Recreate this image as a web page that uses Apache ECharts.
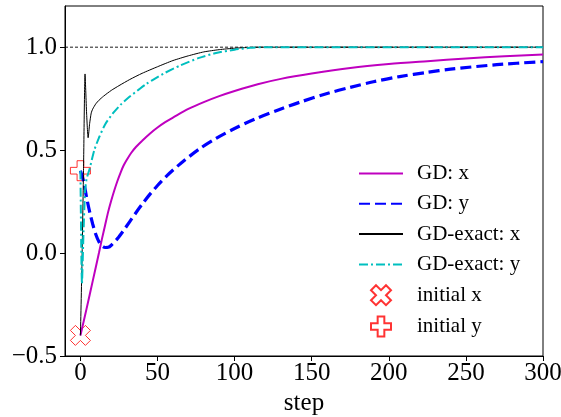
<!DOCTYPE html>
<html>
<head>
<meta charset="utf-8">
<script src="https://cdn.jsdelivr.net/npm/echarts@6/dist/echarts.min.js"></script>
<style>
  html, body { margin: 0; padding: 0; background: #fff; }
  #chart { width: 561px; height: 417px; }
</style>
</head>
<body>
<div id="chart"></div>
<script>
// Gradient descent trajectories of the two coordinates, plain step vs exact line search.
const gdXSteps = [0, 4, 8, 12, 14, 16, 18, 20, 22, 24, 26, 28, 30, 33, 36, 40, 45, 50, 55, 60, 70, 80, 90, 100, 115, 130, 150, 175, 200, 225, 250, 275, 300];
const gdXVals  = [-0.40, -0.27, -0.135, 0.0, 0.07, 0.135, 0.20, 0.255, 0.305, 0.35, 0.39, 0.425, 0.452, 0.487, 0.515, 0.545, 0.58, 0.61, 0.636, 0.658, 0.70, 0.733, 0.762, 0.787, 0.82, 0.846, 0.872, 0.899, 0.918, 0.932, 0.945, 0.956, 0.965];

const gdYSteps = [0, 2, 4, 6, 8, 10, 12, 14, 16, 18, 20, 24, 28, 32, 36, 40, 45, 50, 56, 65, 77, 88, 100, 113, 130, 142, 160, 175, 190, 207, 225, 240, 270, 300];
const gdYVals  = [0.40, 0.35, 0.27, 0.20, 0.14, 0.09, 0.055, 0.035, 0.027, 0.028, 0.038, 0.07, 0.11, 0.153, 0.196, 0.237, 0.285, 0.328, 0.375, 0.435, 0.505, 0.557, 0.605, 0.65, 0.70, 0.732, 0.775, 0.805, 0.832, 0.857, 0.878, 0.893, 0.915, 0.93];

const exactXSteps = [0, 1, 2, 3, 4, 5, 6, 7, 8, 10, 12, 15, 20, 25, 32, 40, 50, 60, 70, 80, 90, 100, 110, 120, 300];
const exactXVals  = [-0.40, -0.05, 0.40, 0.87, 0.68, 0.56, 0.63, 0.68, 0.70, 0.725, 0.742, 0.762, 0.79, 0.813, 0.843, 0.873, 0.905, 0.935, 0.958, 0.977, 0.988, 0.995, 0.999, 1.0, 1.0];

const exactYSteps = [0, 1, 2, 3, 4, 6, 9, 12, 16, 21, 26, 32, 38, 43, 50, 55, 65, 77, 88, 100, 110, 120, 300];
const exactYVals  = [0.40, -0.15, 0.10, 0.30, 0.36, 0.41, 0.50, 0.56, 0.625, 0.678, 0.72, 0.76, 0.795, 0.823, 0.855, 0.876, 0.912, 0.948, 0.972, 0.988, 0.997, 1.0, 1.0];

const initialX = [[0, -0.40]];
const initialY = [[0, 0.40]];

const targetLevel = 1.0;
const xRange = [-10, 300];
const yRange = [-0.5, 1.2];
const xTicks = [0, 50, 100, 150, 200, 250, 300];
const yTicks = [-0.5, 0.0, 0.5, 1.0];

const lineNames = ['GD: x', 'GD: y', 'GD-exact: x', 'GD-exact: y'];
const markerNames = ['initial x', 'initial y'];

function pairs(xs, ys) { return xs.map((x, i) => [x, ys[i]]); }

// filled "X" and "P" marker outlines
const xMarker = 'path://M1 0 L2 1 L3 0 L4 1 L3 2 L4 3 L3 4 L2 3 L1 4 L0 3 L1 2 L0 1 Z';
const plusMarker = 'path://M1 0 L2 0 L2 1 L3 1 L3 2 L2 2 L2 3 L1 3 L1 2 L0 2 L0 1 L1 1 Z';

const FONT = '"Liberation Serif", "DejaVu Serif", serif';

const chart = echarts.init(document.getElementById('chart'), null, { renderer: 'canvas' });

// line entries show only the line sample in the legend
const legendData = lineNames.map(n => ({ name: n, itemStyle: { opacity: 0 } }))
  .concat(markerNames.map(n => ({ name: n })));

chart.setOption({
  animation: false,
  backgroundColor: '#ffffff',
  grid: {
    left: 65, right: 18, top: 6, bottom: 61,
    outerBoundsMode: 'none', containLabel: false,
    show: true, borderColor: '#000', borderWidth: 1, backgroundColor: 'transparent'
  },
  xAxis: {
    type: 'value', min: xRange[0], max: xRange[1],
    name: 'step', nameLocation: 'middle', nameGap: 35,
    nameTextStyle: { fontFamily: FONT, fontSize: 25, color: '#000' },
    axisLine: { show: true, onZero: false, lineStyle: { color: '#000', width: 1 } },
    axisTick: { show: true, inside: false, length: 5, customValues: xTicks, lineStyle: { color: '#000' } },
    axisLabel: { customValues: xTicks, fontFamily: FONT, fontSize: 25, color: '#000', margin: 5 },
    splitLine: { show: false }
  },
  yAxis: {
    type: 'value', min: yRange[0], max: yRange[1],
    axisLine: { show: true, onZero: false, lineStyle: { color: '#000', width: 1 } },
    axisTick: { show: true, inside: false, length: 5, customValues: yTicks, lineStyle: { color: '#000' } },
    axisLabel: {
      customValues: yTicks, fontFamily: FONT, fontSize: 25, color: '#000', margin: 8,
      formatter: v => v.toFixed(1).replace('-', '\u2212')
    },
    splitLine: { show: false }
  },
  legend: {
    orient: 'vertical', left: 353, top: 158,
    itemWidth: 44, itemHeight: 20, itemGap: 9.3,
    data: legendData,
    textStyle: { fontFamily: FONT, fontSize: 21, color: '#000', padding: [0, 0, 0, 9] },
    selectedMode: false
  },
  series: [
    {
      name: 'initial x', type: 'scatter', data: initialX, z: 1,
      symbol: xMarker, symbolSize: 20, symbolKeepAspect: true,
      itemStyle: { color: '#ffffff', borderColor: '#ff0000', borderWidth: 1 }
    },
    {
      name: 'initial y', type: 'scatter', data: initialY, z: 1,
      symbol: plusMarker, symbolSize: 20, symbolKeepAspect: true,
      itemStyle: { color: '#ffffff', borderColor: '#ff0000', borderWidth: 1 }
    },
    {
      name: 'target', type: 'line', data: [[xRange[0], targetLevel], [xRange[1], targetLevel]],
      symbol: 'none', silent: true, z: 2,
      lineStyle: { color: '#000', width: 0.9, type: [3, 2] }
    },
    {
      name: 'GD: x', type: 'line', data: pairs(gdXSteps, gdXVals), z: 3,
      symbol: 'none', smooth: 0.3,
      lineStyle: { color: '#bf00bf', width: 2 }, itemStyle: { color: '#bf00bf' }
    },
    {
      name: 'GD: y', type: 'line', data: pairs(gdYSteps, gdYVals), z: 3,
      symbol: 'none', smooth: 0.3,
      lineStyle: { color: '#0000ff', width: 3.2, type: [11, 5] }, itemStyle: { color: '#0000ff' }
    },
    {
      name: 'GD-exact: x', type: 'line', data: pairs(exactXSteps, exactXVals), z: 3,
      symbol: 'none', smooth: 0.2,
      lineStyle: { color: '#000000', width: 1 }, itemStyle: { color: '#000000' }
    },
    {
      name: 'GD-exact: y', type: 'line', data: pairs(exactYSteps, exactYVals), z: 3,
      symbol: 'none', smooth: 0.2,
      lineStyle: { color: '#00bfbf', width: 2, type: [9, 3, 2, 3] }, itemStyle: { color: '#00bfbf' }
    }
  ]
});
</script>
</body>
</html>
